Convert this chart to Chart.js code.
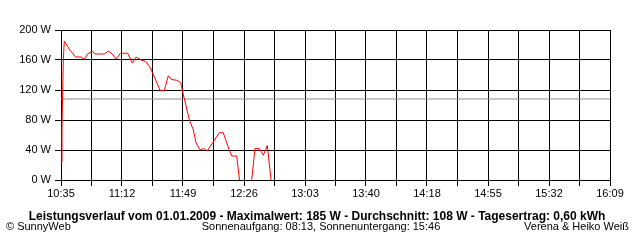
<!DOCTYPE html>
<html>
<head>
<meta charset="utf-8">
<script src="https://cdn.jsdelivr.net/npm/chart.js@4/dist/chart.umd.min.js"></script>
<style>
  html, body { margin: 0; padding: 0; background: #fff; }
  #wrap { width: 640px; height: 240px; }
</style>
</head>
<body>
<div id="wrap"><canvas id="leistung" width="640" height="240"></canvas></div>
<script>
// minutes since midnight and power in W
var times = [635.0, 635.6, 636.0, 636.4, 637.0, 640.5, 643.9, 647.2, 649.2, 651.2,
             654.0, 655.7, 661.3, 663.8, 666.2, 668.6, 671.1, 675.6, 678.4, 680.8,
             683.7, 686.5, 689.0, 691.3, 695.4, 697.8, 700.3, 702.3, 705.4, 707.8,
             709.0, 713.1, 715.5, 717.1, 719.6, 721.6, 724.0, 727.7, 731.3, 733.7,
             737.4, 738.8, 741.9, 743.6, 751.0, 753.0, 755.6, 758.1, 760.5, 762.8];
var watts = [24, 69, 116, 160, 185, 173, 164, 164, 161, 168,
             172, 168, 168, 172, 168, 161, 169, 169, 156, 164,
             160, 158, 151, 140, 119, 119, 139, 134, 133, 130,
             118, 80, 67, 50, 40, 42, 39, 51, 63, 63,
             40, 32, 32, 0, 0, 42, 42, 33, 46, 0];
var average = 108;
var timeLabels = ["10:35", "11:12", "11:49", "12:26", "13:03", "13:40", "14:18", "14:55", "15:32", "16:09"];
var wattTicks = [0, 40, 80, 120, 160, 200];
var tStart = 635, tEnd = 969;

var titleText = "Leistungsverlauf vom 01.01.2009 - Maximalwert: 185 W - Durchschnitt: 108 W - Tagesertrag: 0,60 kWh";
var footLeft = "\u00A9 SunnyWeb";
var footMid = "Sonnenaufgang: 08:13, Sonnenuntergang: 15:46";
var footRight = "Verena & Heiko Wei\u00DF";

var pts = [];
for (var i = 0; i < times.length; i++) pts.push({x: times[i], y: watts[i]});

// texts under the chart
var texte = {
  id: 'texte',
  afterDraw: function(chart) {
    var c = chart.ctx;
    c.save();
    c.fillStyle = '#000';
    c.textBaseline = 'alphabetic';
    c.font = 'bold 12px "Liberation Sans", Arial, sans-serif';
    c.textAlign = 'center';
    c.fillText(titleText, 317, 220);
    c.font = '11px "Liberation Sans", Arial, sans-serif';
    c.textAlign = 'left';
    c.fillText(footLeft, 6, 230);
    c.textAlign = 'center';
    c.fillText(footMid, 321, 230);
    c.textAlign = 'right';
    c.fillText(footRight, 629, 230);
    c.restore();
  }
};

var weiss = {
  id: 'weiss',
  beforeDraw: function(chart) {
    var c = chart.ctx;
    c.save();
    c.fillStyle = '#fff';
    c.fillRect(0, 0, chart.width, chart.height);
    c.restore();
  }
};

var chart = new Chart(document.getElementById('leistung'), {
  type: 'line',
  data: {
    datasets: [{
      data: pts,
      borderColor: '#ff0000',
      borderWidth: 1,
      pointRadius: 0,
      tension: 0,
      order: 0,
      segment: {
        // line lying on the 0 W axis is hidden by the axis in the original
        borderColor: function(ctx) {
          return (ctx.p0.parsed.y === 0 && ctx.p1.parsed.y === 0) ? 'rgba(0,0,0,0)' : '#ff0000';
        }
      }
    }, {
      data: [{x: tStart, y: average}, {x: tEnd, y: average}],
      borderColor: '#8c8c8c',
      borderWidth: 1,
      pointRadius: 0,
      order: 1
    }]
  },
  options: {
    responsive: false,
    animation: false,
    layout: { padding: { top: 30, right: 30, left: 0, bottom: 0 } },
    plugins: { legend: { display: false }, tooltip: { enabled: false } },
    scales: {
      x: {
        type: 'linear',
        min: tStart,
        max: tEnd,
        afterBuildTicks: function(scale) {
          var t = [];
          for (var k = 0; k <= 18; k++) t.push({value: tStart + k * (tEnd - tStart) / 18});
          scale.ticks = t;
        },
        afterFit: function(scale) { scale.height = 60; },
        grid: { color: '#000', lineWidth: 1, tickLength: 6, drawTicks: true },
        border: { color: '#000', width: 1 },
        ticks: {
          autoSkip: false,
          maxRotation: 0,
          padding: 1,
          color: '#000',
          font: { family: '"Liberation Sans", Arial, sans-serif', size: 11 },
          callback: function(v, i) { return i % 2 === 0 ? timeLabels[i / 2] : ''; }
        }
      },
      y: {
        min: 0,
        max: 200,
        afterBuildTicks: function(scale) {
          scale.ticks = wattTicks.map(function(w) { return {value: w}; });
        },
        afterFit: function(scale) { scale.width = 61; },
        grid: { color: '#000', lineWidth: 1, tickLength: 6, drawTicks: true },
        border: { color: '#000', width: 1 },
        ticks: {
          padding: 4,
          color: '#000',
          font: { family: '"Liberation Sans", Arial, sans-serif', size: 11 },
          callback: function(v) { return v + ' W'; }
        }
      }
    }
  },
  plugins: [weiss, texte]
});
</script>
</body>
</html>
